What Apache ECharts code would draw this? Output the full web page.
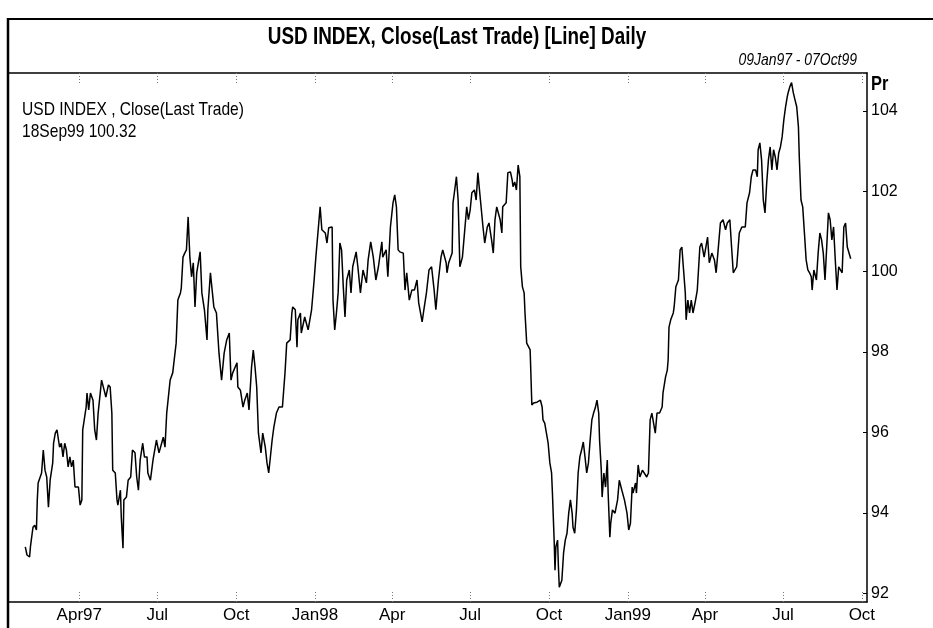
<!DOCTYPE html>
<html>
<head>
<meta charset="utf-8">
<title>USD INDEX</title>
<script src="https://cdn.jsdelivr.net/npm/echarts@6/dist/echarts.min.js"></script>
</head>
<body style="margin:0;background:#fff">
<div id="container" style="width:933px;height:628px"></div>
<script>
const dates = [
  '1997-01-28','1997-01-30','1997-02-02','1997-02-03','1997-02-04','1997-02-06','1997-02-08','1997-02-10','1997-02-11','1997-02-12',
  '1997-02-16','1997-02-18','1997-02-20','1997-02-22','1997-02-24','1997-02-26','1997-03-01','1997-03-02','1997-03-04','1997-03-06',
  '1997-03-09','1997-03-11','1997-03-13','1997-03-15','1997-03-17','1997-03-19','1997-03-21','1997-03-23','1997-03-25','1997-03-27',
  '1997-03-31','1997-04-02','1997-04-04','1997-04-05','1997-04-09','1997-04-10','1997-04-12','1997-04-14','1997-04-17','1997-04-19',
  '1997-04-21','1997-04-23','1997-04-27','1997-04-30','1997-05-02','1997-05-05','1997-05-07','1997-05-09','1997-05-10','1997-05-13',
  '1997-05-15','1997-05-16','1997-05-19','1997-05-20','1997-05-22','1997-05-23','1997-05-26','1997-05-28','1997-05-31','1997-06-02',
  '1997-06-05','1997-06-07','1997-06-09','1997-06-11','1997-06-14','1997-06-16','1997-06-19','1997-06-20','1997-06-23','1997-06-26',
  '1997-06-30','1997-07-03','1997-07-08','1997-07-10','1997-07-12','1997-07-16','1997-07-19','1997-07-23','1997-07-25','1997-07-28',
  '1997-07-29','1997-07-31','1997-08-02','1997-08-04','1997-08-06','1997-08-08','1997-08-10','1997-08-12','1997-08-14','1997-08-16',
  '1997-08-20','1997-08-22','1997-08-25','1997-08-28','1997-08-29','1997-09-01','1997-09-03','1997-09-05','1997-09-08','1997-09-11',
  '1997-09-14','1997-09-17','1997-09-20','1997-09-23','1997-09-25','1997-09-27','1997-10-02','1997-10-03','1997-10-06','1997-10-09',
  '1997-10-11','1997-10-14','1997-10-16','1997-10-19','1997-10-21','1997-10-23','1997-10-25','1997-10-27','1997-10-30','1997-11-01',
  '1997-11-04','1997-11-06','1997-11-08','1997-11-12','1997-11-14','1997-11-17','1997-11-20','1997-11-24','1997-11-27','1997-11-29',
  '1997-12-03','1997-12-05','1997-12-06','1997-12-09','1997-12-11','1997-12-12','1997-12-15','1997-12-16','1997-12-20','1997-12-24',
  '1997-12-28','1997-12-31','1998-01-02','1998-01-05','1998-01-07','1998-01-09','1998-01-13','1998-01-15','1998-01-17','1998-01-21',
  '1998-01-22','1998-01-24','1998-01-26','1998-01-28','1998-01-30','1998-02-01','1998-02-03','1998-02-05','1998-02-07','1998-02-10',
  '1998-02-12','1998-02-14','1998-02-18','1998-02-20','1998-02-23','1998-02-26','1998-03-02','1998-03-04','1998-03-07','1998-03-10',
  '1998-03-13','1998-03-16','1998-03-20','1998-03-21','1998-03-25','1998-03-27','1998-03-30','1998-04-02','1998-04-04','1998-04-06',
  '1998-04-08','1998-04-10','1998-04-14','1998-04-16','1998-04-18','1998-04-21','1998-04-24','1998-04-27','1998-04-30','1998-05-02',
  '1998-05-06','1998-05-08','1998-05-11','1998-05-14','1998-05-17','1998-05-20','1998-05-22','1998-05-25','1998-05-28','1998-05-30',
  '1998-06-03','1998-06-04','1998-06-06','1998-06-10','1998-06-11','1998-06-13','1998-06-15','1998-06-17','1998-06-19','1998-06-22',
  '1998-06-25','1998-06-27','1998-06-29','1998-07-01','1998-07-03','1998-07-06','1998-07-08','1998-07-10','1998-07-13','1998-07-16',
  '1998-07-18','1998-07-21','1998-07-23','1998-07-26','1998-07-28','1998-07-30','1998-08-01','1998-08-05','1998-08-07','1998-08-08',
  '1998-08-12','1998-08-14','1998-08-17','1998-08-19','1998-08-20','1998-08-22','1998-08-24','1998-08-26','1998-08-28','1998-08-29',
  '1998-08-31','1998-09-02','1998-09-03','1998-09-05','1998-09-09','1998-09-11','1998-09-13','1998-09-17','1998-09-21','1998-09-23',
  '1998-09-24','1998-09-26','1998-09-28','1998-09-30','1998-10-02','1998-10-04','1998-10-05','1998-10-07','1998-10-08','1998-10-09',
  '1998-10-11','1998-10-12','1998-10-13','1998-10-15','1998-10-16','1998-10-18','1998-10-20','1998-10-22','1998-10-24','1998-10-26',
  '1998-10-28','1998-10-29','1998-10-31','1998-11-02','1998-11-04','1998-11-06','1998-11-08','1998-11-10','1998-11-12','1998-11-14',
  '1998-11-16','1998-11-18','1998-11-20','1998-11-22','1998-11-24','1998-11-26','1998-11-28','1998-11-29','1998-12-01','1998-12-02',
  '1998-12-04','1998-12-06','1998-12-08','1998-12-09','1998-12-11','1998-12-12','1998-12-14','1998-12-17','1998-12-20','1998-12-22',
  '1998-12-25','1998-12-28','1998-12-31','1999-01-02','1999-01-04','1999-01-06','1999-01-07','1999-01-10','1999-01-11','1999-01-13',
  '1999-01-15','1999-01-18','1999-01-23','1999-01-25','1999-01-27','1999-01-29','1999-01-31','1999-02-02','1999-02-04','1999-02-07',
  '1999-02-10','1999-02-11','1999-02-14','1999-02-16','1999-02-17','1999-02-18','1999-02-20','1999-02-23','1999-02-24','1999-02-26',
  '1999-03-01','1999-03-03','1999-03-05','1999-03-07','1999-03-09','1999-03-10','1999-03-12','1999-03-14','1999-03-16','1999-03-18',
  '1999-03-21','1999-03-23','1999-03-26','1999-03-28','1999-03-31','1999-04-02','1999-04-04','1999-04-06','1999-04-09','1999-04-12',
  '1999-04-14','1999-04-16','1999-04-19','1999-04-22','1999-04-25','1999-04-27','1999-04-30','1999-05-02','1999-05-04','1999-05-08',
  '1999-05-11','1999-05-14','1999-05-18','1999-05-20','1999-05-23','1999-05-25','1999-05-27','1999-05-30','1999-06-01','1999-06-02',
  '1999-06-04','1999-06-06','1999-06-08','1999-06-10','1999-06-12','1999-06-14','1999-06-16','1999-06-18','1999-06-20','1999-06-22',
  '1999-06-24','1999-06-26','1999-06-28','1999-06-30','1999-07-02','1999-07-04','1999-07-06','1999-07-07','1999-07-09','1999-07-11',
  '1999-07-13','1999-07-15','1999-07-17','1999-07-19','1999-07-20','1999-07-22','1999-07-24','1999-07-26','1999-07-28','1999-07-30',
  '1999-08-01','1999-08-03','1999-08-04','1999-08-06','1999-08-09','1999-08-11','1999-08-13','1999-08-15','1999-08-17','1999-08-19',
  '1999-08-21','1999-08-23','1999-08-25','1999-08-27','1999-08-29','1999-08-31','1999-09-02','1999-09-04','1999-09-06','1999-09-08',
  '1999-09-10','1999-09-12','1999-09-14','1999-09-18'
];

const closes = [
  93.15, 92.95, 92.90, 93.15, 93.32, 93.64, 93.69, 93.57, 94.32, 94.74,
  94.99, 95.56, 95.06, 94.89, 94.14, 94.81, 95.24, 95.73, 95.98, 96.06,
  95.63, 95.73, 95.39, 95.73, 95.56, 95.14, 95.39, 95.14, 95.31, 94.64,
  94.64, 94.19, 94.32, 96.06, 96.63, 96.98, 96.56, 96.98, 96.80, 96.06,
  95.81, 96.48, 97.30, 97.05, 96.88, 97.18, 97.13, 96.48, 95.06, 94.99,
  94.32, 94.19, 94.56, 93.89, 93.12, 94.32, 94.39, 94.81, 94.89, 95.56,
  95.49, 94.89, 94.56, 95.31, 95.73, 95.39, 95.39, 94.99, 94.81, 95.31,
  95.81, 95.49, 95.88, 95.63, 96.48, 97.30, 97.48, 98.22, 99.29, 99.47,
  99.59, 100.36, 100.46, 100.54, 101.36, 100.36, 99.87, 100.22, 99.12, 99.97,
  100.49, 99.47, 99.05, 98.30, 99.05, 99.97, 99.54, 99.12, 98.97, 97.97,
  97.30, 97.97, 98.30, 98.47, 97.30, 97.48, 97.73, 97.13, 97.05, 96.63,
  96.80, 96.98, 96.56, 97.63, 98.05, 97.63, 97.13, 95.98, 95.49, 95.98,
  95.63, 95.24, 94.99, 95.81, 96.13, 96.48, 96.63, 96.63, 97.48, 98.22,
  98.30, 98.97, 99.12, 99.05, 98.12, 98.80, 98.97, 98.47, 98.87, 98.55,
  99.05, 99.79, 100.36, 101.11, 101.61, 101.04, 100.96, 100.71, 101.09, 101.11,
  99.29, 98.55, 98.97, 99.47, 100.71, 100.54, 99.62, 98.87, 99.79, 100.04,
  99.47, 100.12, 100.49, 100.12, 99.47, 100.04, 99.72, 100.29, 100.74, 100.36,
  99.79, 100.12, 100.74, 100.36, 100.54, 99.87, 101.11, 101.71, 101.91, 101.61,
  100.54, 100.49, 100.46, 99.54, 99.97, 99.29, 99.54, 99.54, 99.79, 99.22,
  98.75, 99.05, 99.47, 100.04, 100.12, 99.54, 99.05, 99.79, 100.36, 100.54,
  100.22, 99.97, 100.22, 100.46, 101.71, 102.03, 102.36, 101.78, 100.12, 100.36,
  101.11, 101.61, 101.29, 101.53, 101.96, 102.03, 101.78, 102.46, 101.78, 101.11,
  100.71, 101.11, 101.21, 100.79, 100.46, 101.29, 101.61, 101.29, 100.96, 101.61,
  101.71, 102.46, 102.48, 102.28, 102.11, 102.23, 102.03, 102.65, 102.36, 100.12,
  99.62, 99.47, 98.97, 98.22, 98.05, 96.68, 96.73, 96.75, 96.80, 96.63,
  96.31, 96.23, 95.98, 95.73, 95.24, 94.99, 94.49, 93.32, 92.57, 93.15,
  93.32, 92.65, 92.15, 92.12, 92.32, 93.00, 93.32, 93.49, 93.99, 94.32,
  93.99, 93.64, 93.49, 94.07, 94.99, 95.39, 95.56, 95.76, 95.39, 94.99,
  95.24, 95.81, 96.31, 96.48, 96.61, 96.80, 96.48, 95.81, 95.06, 94.39,
  94.99, 94.64, 95.31, 94.49, 93.39, 93.74, 94.07, 93.99, 94.32, 94.81,
  94.56, 94.32, 93.99, 93.57, 93.74, 94.64, 94.49, 94.74, 94.49, 95.19,
  94.89, 95.06, 94.89, 94.99, 96.31, 96.48, 96.23, 95.98, 96.48, 96.48,
  96.63, 96.98, 97.38, 97.55, 97.80, 98.62, 98.80, 98.97, 99.12, 99.62,
  99.79, 100.54, 100.61, 100.04, 99.47, 98.80, 99.29, 98.97, 99.29, 98.97,
  99.29, 99.54, 100.61, 100.71, 100.36, 100.61, 100.86, 100.22, 100.46, 100.29,
  99.97, 100.46, 101.21, 101.29, 101.04, 101.21, 101.29, 100.61, 99.97, 100.12,
  100.96, 101.11, 101.11, 101.71, 101.96, 102.36, 102.53, 102.53, 102.36, 103.03,
  103.20, 102.78, 101.78, 101.46, 102.21, 102.78, 103.10, 102.53, 103.03, 102.85,
  102.53, 102.95, 103.10, 103.35, 103.78, 104.10, 104.35, 104.45, 104.60, 104.70,
  104.45, 104.27, 104.10, 103.60, 102.85, 101.78, 101.61, 100.96, 100.29, 100.04,
  99.97, 99.87, 99.54, 100.04, 99.79, 100.46, 100.96, 100.79, 100.46, 99.79,
  100.61, 101.46, 101.29, 100.79, 101.11, 100.29, 99.54, 100.12, 100.04, 99.97,
  101.11, 101.21, 100.61, 100.32
];

const tickDates = ['1997-04-01', '1997-07-01', '1997-10-01', '1998-01-01', '1998-04-01', '1998-07-01',
                   '1998-10-01', '1999-01-01', '1999-04-01', '1999-07-01', '1999-10-01'];
const tickLabels = ['Apr97', 'Jul', 'Oct', 'Jan98', 'Apr', 'Jul', 'Oct', 'Jan99', 'Apr', 'Jul', 'Oct'];
const priceTicks = [92, 94, 96, 98, 100, 102, 104];

const FONT = "'Liberation Sans Narrow', 'Arial Narrow', 'Liberation Sans', Arial, sans-serif";
const NARROW = 0.82;   // squeeze for the graphic texts, the original uses a narrow face

// dates -> local timestamps (the x axis is a plain value axis in ms)
function ts(s) {
    let p = s.split('-');
    return new Date(+p[0], +p[1] - 1, +p[2]).getTime();
}

function label(text, x, y, font, align) {
    return {
        type: 'text', x: x, y: y, scaleX: NARROW,
        style: { text: text, fill: '#000', font: font, textAlign: align, textVerticalAlign: 'middle' }
    };
}

let tickTimes = tickDates.map(ts);
let seriesData = dates.map(function (d, i) { return [ts(d), closes[i]]; });
let xMin = ts('1997-01-09');
let xMax = ts('1999-10-07');

let chart = echarts.init(document.getElementById('container'), null, { renderer: 'canvas' });

let option = {
    animation: false,
    backgroundColor: '#fff',
    grid: { left: 9, right: 66, top: 73, bottom: 26 },
    xAxis: [
        {
            type: 'value',
            position: 'bottom',
            min: xMin,
            max: xMax,
            axisLine: { show: true, lineStyle: { color: '#000', width: 1.5 } },
            axisTick: {
                show: true, inside: true, length: 12, customValues: tickTimes,
                lineStyle: { color: '#777', width: 1, type: [1, 2] }
            },
            axisLabel: {
                customValues: tickTimes,
                margin: 5,
                color: '#000',
                fontFamily: FONT,
                fontSize: 17,
                formatter: function (v) {
                    let i = tickTimes.indexOf(v);
                    return i >= 0 ? tickLabels[i] : '';
                }
            },
            splitLine: { show: false }
        },
        {
            type: 'value',
            position: 'top',
            min: xMin,
            max: xMax,
            axisLine: { show: true, lineStyle: { color: '#000', width: 1.5 } },
            axisTick: {
                show: true, inside: true, length: 10, customValues: tickTimes,
                lineStyle: { color: '#777', width: 1, type: [1, 2] }
            },
            axisLabel: { show: false },
            splitLine: { show: false }
        }
    ],
    yAxis: {
        type: 'value',
        position: 'right',
        min: 91.78,
        max: 104.94,
        axisLine: { show: true, lineStyle: { color: '#000', width: 1.5 } },
        axisTick: { show: true, inside: true, length: 4, customValues: priceTicks, lineStyle: { color: '#000' } },
        axisLabel: {
            customValues: priceTicks,
            margin: 4,
            color: '#000',
            fontFamily: FONT,
            fontSize: 16
        },
        splitLine: { show: false }
    },
    series: [
        {
            name: 'USD INDEX',
            type: 'line',
            xAxisIndex: 0,
            data: seriesData,
            symbol: 'none',
            lineStyle: { color: '#000', width: 1.5 }
        }
    ],
    graphic: [
        { type: 'line', shape: { x1: 7, y1: 19, x2: 933, y2: 19 }, style: { stroke: '#000', lineWidth: 2 } },
        { type: 'line', shape: { x1: 8, y1: 18, x2: 8, y2: 628 }, style: { stroke: '#000', lineWidth: 2.5 } },
        label('USD INDEX, Close(Last Trade) [Line] Daily', 457, 38, 'bold 23px ' + FONT, 'center'),
        label('09Jan97 - 07Oct99', 857, 60, 'italic 17px ' + FONT, 'right'),
        label('USD INDEX , Close(Last Trade)', 22, 110, '19px ' + FONT, 'left'),
        label('18Sep99 100.32', 22, 132, '19px ' + FONT, 'left'),
        label('Pr', 871, 84, 'bold 20px ' + FONT, 'left')
    ]
};

chart.setOption(option);
window.addEventListener('resize', chart.resize);
</script>
</body>
</html>
